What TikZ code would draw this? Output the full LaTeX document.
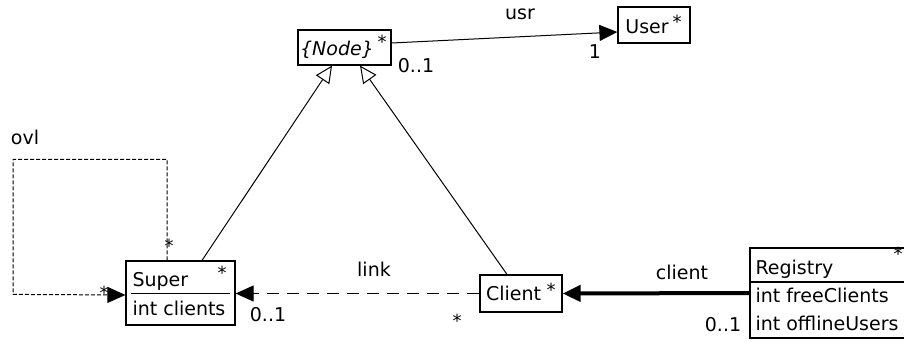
\documentclass[tikz,border=0pt]{standalone}
\usepackage{fontspec}
\setmainfont{DejaVu Sans}
\usetikzlibrary{arrows.meta}
\tikzset{
    classbox/.style = {draw, line width = 1.2pt, inner sep = 0pt},
    mult/.style = {inner sep = 0pt, font = \fontsize{18}{18}\selectfont},
    filltip/.style = {-{Triangle[length = 18pt, width = 16pt]}},
    gentip/.style = {-{Triangle[open, length = 17pt, width = 16pt, fill = white]}}
}
\begin{document}
\begin{tikzpicture}[x = 1pt, y = -1pt, line width = 1pt]
        \useasboundingbox (0,0) rectangle (904,341);
        \begin{scope}[every node/.append style = {font = \fontsize{19}{22}\selectfont, inner sep = 0pt}]
            % classes
            \node[classbox, minimum width = 93, minimum height = 35] (node) at (344.5,47.5) {};
            \node at (337,50) {\textit{\{Node\}}};
            \node[classbox, minimum width = 72, minimum height = 36] (user) at (654,25) {};
            \node at (647,27) {User};
            \node[classbox, minimum width = 109, minimum height = 64] (super) at (180.5,293) {};
            \node[anchor = base west] at (132,286) {Super};
            \node[anchor = base west] at (132,315) {int clients};
            \draw (131,293) -- (230,293);
            \node[classbox, minimum width = 82, minimum height = 37] (client) at (521,293.5) {};
            \node at (513.5,293) {Client};
            \node[classbox, minimum width = 185, minimum height = 90] (registry) at (842.5,293) {};
            \node[anchor = base west] at (755,274) {Registry};
            \node[anchor = base west] at (755,302) {int freeClients};
            \node[anchor = base west] at (755,330) {int offlineUsers};
            \draw[line width = 1.2pt] (registry.west |- 0,282) -- (registry.east |- 0,282);
            \foreach \p in {(382,42), (677,22), (222,273), (551,290), (898,254)}
                \node[mult] at \p {*};
            % associations
            \draw[gentip] ([xshift = 21.5]super.north) -- ([xshift = -12.5]node.south);
            \draw[gentip] ([xshift = -14]client.north) -- ([xshift = 15.5]node.south);
            \draw[filltip] ([yshift = 4.5]node.east) -- ([yshift = -7]user.west);
            \draw[filltip, dash pattern = on 12pt off 8pt] (client.west) -- (client.west -| super.east);
            \draw[filltip, line width = 4pt] (registry.west) -- (client.east);
            \draw[filltip, dash pattern = on 4pt off 2pt] ([xshift = -13.5]super.north) -- ++(0,-101) -| ++(-154,135) -- ([yshift = -2]super.west);
            % labels
            \node at (520,14) {usr};
            \node at (595,52) {1};
            \node at (416,66) {0..1};
            \node at (25,137) {ovl};
            \node at (374,269) {link};
            \node at (268,315) {0..1};
            \node at (682,272) {client};
            \node at (723,325) {0..1};
            \node[mult] at (169,246) {*};
            \node[mult] at (104,293) {*};
            \node[mult] at (457,321) {*};
        \end{scope}
\end{tikzpicture}
\end{document}
